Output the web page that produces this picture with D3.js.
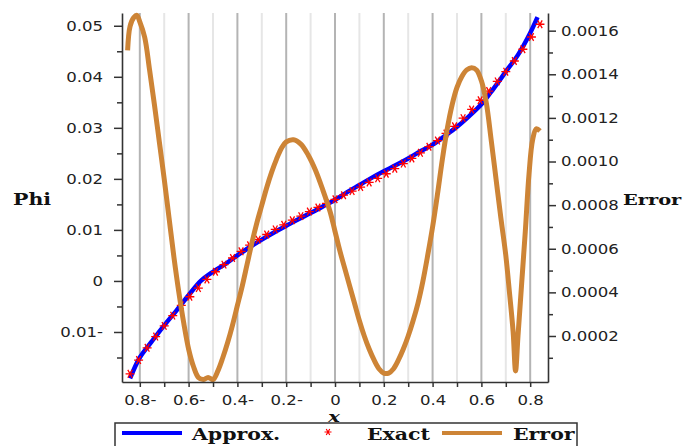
<!DOCTYPE html>
<html>
<head>
<meta charset="utf-8">
<script src="https://cdn.jsdelivr.net/npm/d3@7"></script>
<style>
  body { margin: 0; background: #fff; }
</style>
</head>
<body>
<script>
// values
var approxX = [-0.84, -0.80, -0.75, -0.70, -0.65, -0.60, -0.55, -0.50, -0.45, -0.40, -0.35, -0.30, -0.25, -0.20, -0.15, -0.10, -0.05, 0,
               0.05, 0.10, 0.15, 0.20, 0.25, 0.30, 0.35, 0.40, 0.45, 0.50, 0.55, 0.60, 0.65, 0.70, 0.75, 0.80, 0.83];
var approxY = [-0.0191, -0.0150, -0.0118, -0.0087, -0.0058, -0.0028, 0.0000, 0.0018, 0.0033, 0.0050, 0.0066, 0.0081, 0.0095, 0.0108, 0.0121, 0.0133, 0.0146, 0.0159,
               0.0174, 0.0188, 0.0202, 0.0215, 0.0227, 0.0240, 0.0254, 0.0267, 0.0284, 0.0302, 0.0323, 0.0346, 0.0377, 0.0410, 0.0443, 0.0486, 0.0517];

var exactX = [-0.840, -0.805, -0.770, -0.735, -0.700, -0.665, -0.630, -0.595, -0.560, -0.525, -0.490, -0.455, -0.420, -0.385, -0.350, -0.315, -0.280,
              -0.245, -0.210, -0.175, -0.140, -0.105, -0.070, -0.035, 0.000, 0.035, 0.070, 0.105, 0.140, 0.175, 0.210, 0.245, 0.280,
              0.315, 0.350, 0.385, 0.420, 0.455, 0.490, 0.525, 0.560, 0.595, 0.630, 0.665, 0.700, 0.735, 0.770, 0.805, 0.840];
var exactY = [-0.0182, -0.0155, -0.0131, -0.0109, -0.0088, -0.0068, -0.0048, -0.0031, -0.0014, 0.0003, 0.0018, 0.0032, 0.0045, 0.0058, 0.0070, 0.0081, 0.0091,
              0.0101, 0.0110, 0.0119, 0.0127, 0.0136, 0.0144, 0.0152, 0.0160, 0.0168, 0.0176, 0.0184, 0.0193, 0.0201, 0.0210, 0.0220, 0.0230,
              0.0240, 0.0251, 0.0263, 0.0275, 0.0289, 0.0303, 0.0319, 0.0336, 0.0354, 0.0372, 0.0391, 0.0410, 0.0431, 0.0454, 0.0478, 0.0503];

var errorX = [-0.850, -0.840, -0.825, -0.812, -0.800, -0.780, -0.760, -0.740, -0.720, -0.700, -0.680, -0.660, -0.640, -0.620, -0.600, -0.580,
              -0.560, -0.540, -0.520, -0.500, -0.480, -0.460, -0.440, -0.420, -0.400, -0.380, -0.360, -0.340, -0.320, -0.300, -0.280, -0.260,
              -0.240, -0.220, -0.200, -0.170, -0.140, -0.110, -0.080, -0.050, -0.020, 0.000, 0.020, 0.040, 0.060, 0.080, 0.100, 0.120,
              0.140, 0.160, 0.180, 0.200, 0.220, 0.240, 0.260, 0.280, 0.300, 0.320, 0.340, 0.360, 0.380, 0.400, 0.420, 0.440,
              0.460, 0.480, 0.500, 0.520, 0.540, 0.560, 0.580, 0.600, 0.620, 0.640, 0.660, 0.680, 0.700, 0.715, 0.730, 0.740,
              0.750, 0.765, 0.780, 0.795, 0.810, 0.825, 0.840];
var errorY = [0.00151, 0.00162, 0.00166, 0.00167, 0.00164, 0.00157, 0.00142, 0.00126, 0.00109, 0.00092, 0.00074, 0.00056, 0.00040, 0.00026, 0.00014, 0.00006,
              0.00001, 0.00000, 0.00001, 0.00000, 0.00004, 0.00010, 0.00017, 0.00025, 0.00034, 0.00043, 0.00053, 0.00063, 0.00072, 0.00080, 0.00088, 0.00095,
              0.00101, 0.00106, 0.00109, 0.00110, 0.00108, 0.00103, 0.00096, 0.00087, 0.00077, 0.00068, 0.00059, 0.00051, 0.00043, 0.00035, 0.00027, 0.00020,
              0.00014, 0.00009, 0.00005, 0.00003, 0.00003, 0.00005, 0.00009, 0.00014, 0.00020, 0.00027, 0.00035, 0.00045, 0.00057, 0.00070, 0.00085, 0.00101,
              0.00115, 0.00126, 0.00134, 0.00139, 0.00142, 0.00143, 0.00142, 0.00137, 0.00127, 0.00110, 0.00092, 0.00074, 0.00057, 0.00040, 0.00022, 0.00004,
              0.00020, 0.00044, 0.00068, 0.00094, 0.00110, 0.00115, 0.00114];

var xTicks = [-0.8, -0.6, -0.4, -0.2, 0, 0.2, 0.4, 0.6, 0.8];
var xTickLabels = ["0.8-", "0.6-", "0.4-", "0.2-", "0", "0.2", "0.4", "0.6", "0.8"];
var xMinorTicks = [-0.7, -0.5, -0.3, -0.1, 0.1, 0.3, 0.5, 0.7];

var phiTicks = [-0.01, 0, 0.01, 0.02, 0.03, 0.04, 0.05];
var phiTickLabels = ["0.01-", "0", "0.01", "0.02", "0.03", "0.04", "0.05"];
var phiMinorTicks = [-0.015, -0.005, 0.005, 0.015, 0.025, 0.035, 0.045];

var errTicks = [0.0002, 0.0004, 0.0006, 0.0008, 0.0010, 0.0012, 0.0014, 0.0016];
var errTickLabels = ["0.0002", "0.0004", "0.0006", "0.0008", "0.0010", "0.0012", "0.0014", "0.0016"];
var errMinorTicks = [0.0001, 0.0003, 0.0005, 0.0007, 0.0009, 0.0011, 0.0013, 0.0015];

var legendNames = ["Approx.", "Exact", "Error"];

// set the dimensions and margins of the graph
var margin = {top: 13, right: 139, bottom: 64, left: 122},
    width = 687 - margin.left - margin.right,
    height = 446 - margin.top - margin.bottom;

var blue = "#0000ff", red = "#ff0000", orange = "#cd8436";
var tickFont = "'DejaVu Sans', sans-serif", boldFont = "'DejaVu Serif', serif";
var stretch = 1.21;

// set the ranges
var x = d3.scaleLinear().domain([-0.873, 0.873]).range([0, width]);
var yPhi = d3.scaleLinear().domain([-0.0198, 0.0525]).range([height, 0]);
var yErr = d3.scaleLinear().domain([-0.000011, 0.001681]).range([height, 0]);

var root = d3.select("body").append("svg")
    .attr("width", 687)
    .attr("height", 446);

var svg = root.append("g")
    .attr("transform", "translate(" + margin.left + "," + margin.top + ")");

// vertical grid lines
svg.selectAll(".gridMinor")
    .data(xMinorTicks)
  .enter().append("line")
    .attr("x1", function(d) { return x(d); })
    .attr("x2", function(d) { return x(d); })
    .attr("y1", 0).attr("y2", height)
    .attr("stroke", "#e6e6e6").attr("stroke-width", 2);

svg.selectAll(".gridMajor")
    .data(xTicks)
  .enter().append("line")
    .attr("x1", function(d) { return x(d); })
    .attr("x2", function(d) { return x(d); })
    .attr("y1", 0).attr("y2", height)
    .attr("stroke", "#b4b4b4").attr("stroke-width", 2);

// approximate solution
var approxLine = d3.line()
    .x(function(d, i) { return x(approxX[i]); })
    .y(function(d) { return yPhi(d); })
    .curve(d3.curveCatmullRom);

svg.append("path")
    .datum(approxY)
    .attr("fill", "none")
    .attr("stroke", blue)
    .attr("stroke-width", 4.5)
    .attr("d", approxLine);

// exact solution as asterisks
function starPath(r) {
  var p = "";
  for (var i = 0; i < 3; i++) {
    var a = i * Math.PI / 3;
    p += "M" + (-r * Math.cos(a)) + "," + (-r * Math.sin(a)) + "L" + (r * Math.cos(a)) + "," + (r * Math.sin(a));
  }
  return p;
}

svg.selectAll(".star")
    .data(exactY)
  .enter().append("path")
    .attr("transform", function(d, i) { return "translate(" + x(exactX[i]) + "," + yPhi(d) + ")"; })
    .attr("d", starPath(4.5))
    .attr("stroke", red)
    .attr("stroke-width", 1.3)
    .attr("fill", "none");

// error curve on the right axis
var errLine = d3.line()
    .x(function(d, i) { return x(errorX[i]); })
    .y(function(d) { return yErr(d); })
    .curve(d3.curveCatmullRom);

svg.append("path")
    .datum(errorY)
    .attr("fill", "none")
    .attr("stroke", orange)
    .attr("stroke-width", 5)
    .attr("d", errLine);

// axes
function styleAxis(g) {
  g.selectAll(".domain").attr("stroke", "#333").attr("stroke-width", 1.6);
  g.selectAll(".tick line").attr("stroke", "#333").attr("stroke-width", 1.5);
  g.selectAll("text")
      .attr("font-family", tickFont)
      .attr("font-size", "13.7px")
      .attr("fill", "#222")
      .attr("transform", "scale(" + stretch + ",1)");
}

function minorAxis(g) {
  g.select(".domain").remove();
  g.selectAll(".tick line").attr("stroke", "#333").attr("stroke-width", 1.5);
}

svg.append("g")
    .call(d3.axisLeft(yPhi).tickValues(phiMinorTicks).tickSize(5).tickFormat(""))
    .call(minorAxis);
svg.append("g")
    .call(d3.axisLeft(yPhi).tickValues(phiTicks).tickSize(8).tickSizeOuter(0).tickPadding(7.7)
      .tickFormat(function(d, i) { return phiTickLabels[i]; }))
    .call(styleAxis);

svg.append("g")
    .attr("transform", "translate(" + width + ",0)")
    .call(d3.axisRight(yErr).tickValues(errMinorTicks).tickSize(5).tickFormat(""))
    .call(minorAxis);
svg.append("g")
    .attr("transform", "translate(" + width + ",0)")
    .call(d3.axisRight(yErr).tickValues(errTicks).tickSize(8).tickSizeOuter(0).tickPadding(2.7)
      .tickFormat(function(d, i) { return errTickLabels[i]; }))
    .call(styleAxis);

svg.append("g")
    .attr("transform", "translate(0," + height + ")")
    .call(d3.axisBottom(x).tickValues(xMinorTicks).tickSize(5).tickFormat(""))
    .call(minorAxis);
svg.append("g")
    .attr("transform", "translate(0," + height + ")")
    .call(d3.axisBottom(x).tickValues(xTicks).tickSize(5).tickSizeOuter(0).tickPadding(7.8)
      .tickFormat(function(d, i) { return xTickLabels[i]; }))
    .call(styleAxis);

// axis titles
root.append("text")
    .attr("transform", "translate(13,205) scale(1.28,1)")
    .attr("font-family", boldFont).attr("font-weight", "bold").attr("font-size", "16px")
    .attr("fill", "#111")
    .text("Phi");

root.append("text")
    .attr("transform", "translate(623,205) scale(1.25,1)")
    .attr("font-family", boldFont).attr("font-weight", "bold").attr("font-size", "15.5px")
    .attr("fill", "#111")
    .text("Error");

// legend
var legend = root.append("g");
legend.append("rect")
    .attr("x", 115).attr("y", 423).attr("width", 462).attr("height", 30)
    .attr("fill", "#fff").attr("stroke", "#333").attr("stroke-width", 1.5);

legend.append("line")
    .attr("x1", 122).attr("x2", 182).attr("y1", 433).attr("y2", 433)
    .attr("stroke", blue).attr("stroke-width", 4);
legend.append("path")
    .attr("transform", "translate(328,432)")
    .attr("d", starPath(3.5))
    .attr("stroke", red).attr("stroke-width", 1.2);
legend.append("line")
    .attr("x1", 442).attr("x2", 502).attr("y1", 433).attr("y2", 433)
    .attr("stroke", orange).attr("stroke-width", 4);

var legendX = [192, 367, 513];
legend.selectAll(".lt")
    .data(legendNames)
  .enter().append("text")
    .attr("transform", function(d, i) { return "translate(" + legendX[i] + ",440) scale(1.28,1)"; })
    .attr("font-family", boldFont).attr("font-weight", "bold").attr("font-size", "16px")
    .attr("fill", "#111")
    .text(function(d) { return d; });

// x title sits just above the legend box
root.append("text")
    .attr("transform", "translate(334,422) scale(1.3,1)")
    .attr("text-anchor", "middle")
    .attr("font-family", boldFont).attr("font-weight", "bold").attr("font-style", "italic").attr("font-size", "15px")
    .attr("fill", "#111")
    .text("x");
</script>
</body>
</html>
